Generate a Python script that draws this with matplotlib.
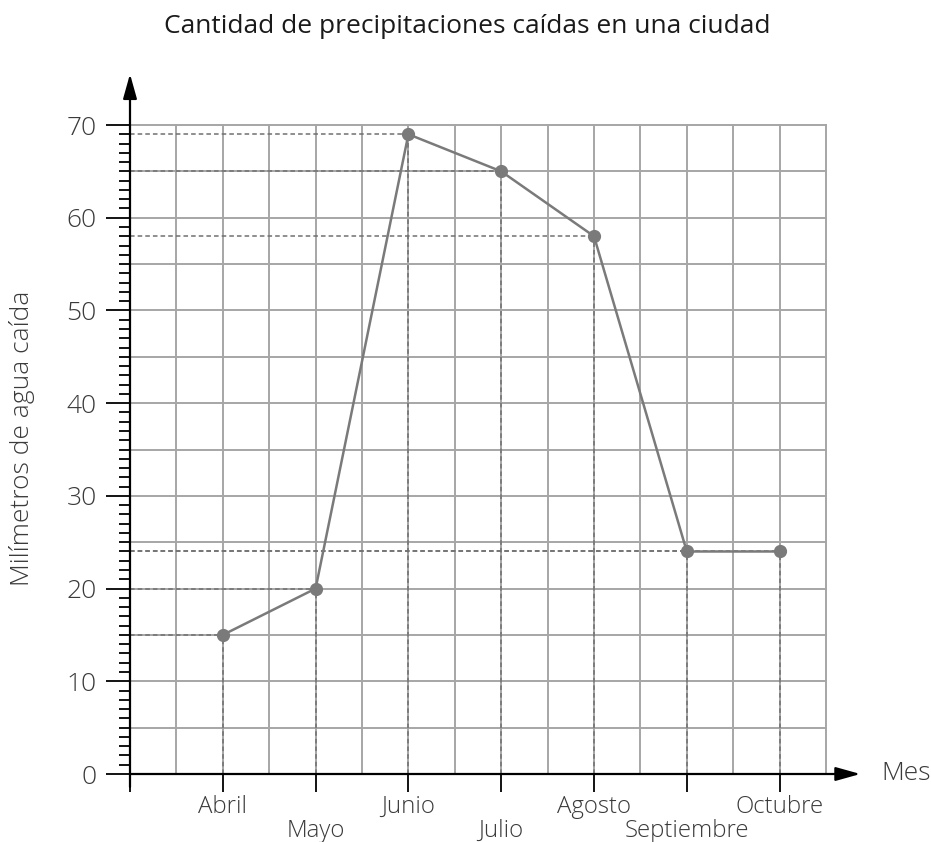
import matplotlib.pyplot as plt
import numpy as np

meses = ['Abril', 'Mayo', 'Junio', 'Julio', 'Agosto', 'Septiembre', 'Octubre']
milimetros = [15, 20, 69, 65, 58, 24, 24]

plt.rcParams['font.family'] = ['Open Sans', 'DejaVu Sans']

W, H = 931, 842
fig = plt.figure(figsize=(W / 100, H / 100), dpi=100)
ax = fig.add_axes([130 / W, 68 / H, 696 / W, 649 / H])
ax.set_xlim(0, 7.5)
ax.set_ylim(0, 70)
px = 649 / 70  # pixels per mm on the y axis

pos = np.arange(1, len(meses) + 1)

# cuadrícula
for gx in np.arange(0.5, 7.51, 0.5):
    ax.plot([gx, gx], [0, 70], color='#a6a6a6', lw=1.4, zorder=1, clip_on=False)
for gy in np.arange(5, 70.1, 5):
    ax.plot([0, 7.5], [gy, gy], color='#a6a6a6', lw=1.4, zorder=1, clip_on=False)

# líneas de referencia punteadas
for x, y in zip(pos, milimetros):
    ax.plot([x, x], [0, y], color='#707070', lw=1.1, ls=(0, (3, 2)), zorder=2)
    ax.plot([0, x], [y, y], color='#707070', lw=1.1, ls=(0, (3, 2)), zorder=2)

ax.plot(pos, milimetros, color='#7a7a7a', lw=1.8, marker='o', ms=8.5,
        mfc='#7a7a7a', mec='#7a7a7a', zorder=4)

# ejes con flecha
for s in ax.spines.values():
    s.set_visible(False)
flecha = dict(arrowstyle='-|>,head_length=1.5,head_width=0.42',
              color='black', lw=1.6, shrinkA=0, shrinkB=0)
ax.annotate('', xy=(0, 75.5), xytext=(0, -1.4), arrowprops=flecha,
            annotation_clip=False, zorder=5)
ax.annotate('', xy=(7.87, 0), xytext=(0, 0), arrowprops=flecha,
            annotation_clip=False, zorder=5)

ax.set_xticks(np.concatenate([[0], pos]))
ax.set_xticklabels([])
ax.tick_params(axis='x', length=13, width=1.3, color='black')
for i, (x, m) in enumerate(zip(pos, meses)):
    yb = -(63 if i % 2 else 39) / px
    ax.text(x, yb, m, fontsize=17.3, fontweight='light', color='#3a3a3a',
            ha='center', va='baseline', clip_on=False)

ax.set_yticks(np.arange(0, 71, 10))
ax.set_yticks(np.arange(0, 71, 1), minor=True)
ax.set_yticklabels([str(v) for v in range(0, 71, 10)], fontsize=19,
                   fontweight='light', color='#3a3a3a')
ax.tick_params(axis='y', which='major', length=17, width=1.3, color='black', pad=7)
ax.tick_params(axis='y', which='minor', length=8, width=1.3, color='black')

ax.text(8.1, 0, 'Mes', fontsize=19, fontweight='light', color='#3a3a3a',
        va='center', ha='left')
fig.text(22 / W, 1 - 438 / H, 'Milímetros de agua caída', fontsize=19,
         fontweight='light', color='#3a3a3a', rotation=90,
         ha='center', va='center')
fig.text(467 / W, 1 - 33 / H,
         'Cantidad de precipitaciones caídas en una ciudad',
         fontsize=19, color='#1a1a1a', ha='center', va='baseline')

fig.savefig('out.png', dpi=100)
